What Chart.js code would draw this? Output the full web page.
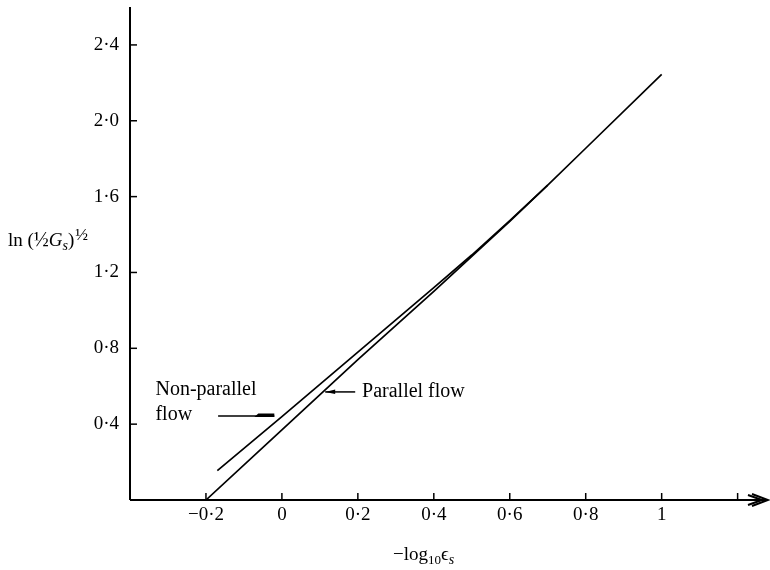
<!DOCTYPE html>
<html>
<head>
<meta charset="utf-8">
<script src="https://cdn.jsdelivr.net/npm/chart.js@4.4.0/dist/chart.umd.min.js"></script>
<style>
  body { margin: 0; background: #fff; }
  canvas { display: block; }
</style>
</head>
<body>
<canvas id="flow" width="770" height="570"></canvas>
<script>
// values
const parallelX = [-0.2, 0, 0.2, 0.4, 0.5, 0.6, 0.7, 0.8, 1.0];
const parallelY = [0, 0.37, 0.74, 1.1, 1.285, 1.47, 1.66, 1.855, 2.245];
const nonParallelX = [-0.17, 0, 0.2, 0.4, 0.5, 0.6, 0.7];
const nonParallelY = [0.155, 0.44, 0.78, 1.12, 1.292, 1.474, 1.66];

const xTicks = [-0.2, 0, 0.2, 0.4, 0.6, 0.8, 1, 1.2];
const xTickLabels = ['\u22120\u00b72', '0', '0\u00b72', '0\u00b74', '0\u00b76', '0\u00b78', '1', ''];
const yTicks = [0.4, 0.8, 1.2, 1.6, 2.0, 2.4];
const yTickLabels = ['0\u00b74', '0\u00b78', '1\u00b72', '1\u00b76', '2\u00b70', '2\u00b74'];

const serif = "'Liberation Serif', 'DejaVu Serif', serif";

function toPoints(xs, ys) {
  return xs.map((x, i) => ({ x: x, y: ys[i] }));
}

// axes, ticks, titles and the two labels are drawn here from the chart scales
const axesPlugin = {
  id: 'axesPlugin',
  afterDraw(chart) {
    const c = chart.ctx;
    const xs = chart.scales.x;
    const ys = chart.scales.y;
    const area = chart.chartArea;
    const x0 = xs.getPixelForValue(xs.min);
    const y0 = ys.getPixelForValue(0);

    c.save();
    c.strokeStyle = '#000';
    c.fillStyle = '#000';
    c.lineWidth = 2;

    // y axis
    c.beginPath();
    c.moveTo(x0, y0);
    c.lineTo(x0, area.top);
    c.stroke();

    // x axis with arrow
    c.beginPath();
    c.moveTo(x0, y0);
    c.lineTo(area.right, y0);
    c.stroke();
    c.beginPath();
    c.moveTo(area.right - 16, y0 - 6);
    c.lineTo(area.right, y0);
    c.lineTo(area.right - 16, y0 + 6);
    c.stroke();
    c.beginPath();
    c.moveTo(area.right - 20, y0 - 5);
    c.lineTo(area.right - 6, y0);
    c.lineTo(area.right - 20, y0 + 5);
    c.stroke();

    // ticks
    c.lineWidth = 1.5;
    c.font = '19px ' + serif;
    c.textAlign = 'center';
    c.textBaseline = 'top';
    xTicks.forEach((v, i) => {
      const px = xs.getPixelForValue(v);
      c.beginPath();
      c.moveTo(px, y0);
      c.lineTo(px, y0 - 7);
      c.stroke();
      c.fillText(xTickLabels[i], px, y0 + 6);
    });
    c.textAlign = 'right';
    c.textBaseline = 'middle';
    yTicks.forEach((v, i) => {
      const py = ys.getPixelForValue(v);
      c.beginPath();
      c.moveTo(x0, py);
      c.lineTo(x0 + 7, py);
      c.stroke();
      c.fillText(yTickLabels[i], x0 - 11, py);
    });

    // y title: ln (1/2 Gs)^1/2
    c.textAlign = 'left';
    c.textBaseline = 'alphabetic';
    let tx = 8, ty = 246;
    const piece = (txt, font, dy) => {
      c.font = font;
      c.fillText(txt, tx, ty + dy);
      tx += c.measureText(txt).width;
    };
    piece('ln (', '19px ' + serif, 0);
    piece('\u00bd', '20px ' + serif, 0);
    piece('G', 'italic 19px ' + serif, 0);
    piece('s', 'italic 14px ' + serif, 4);
    piece(')', '19px ' + serif, 0);
    tx += 1;
    piece('\u00bd', '17px ' + serif, -6);

    // x title: -log10 eps_s
    tx = 393; ty = 560;
    piece('\u2212log', '19px ' + serif, 0);
    piece('10', '13px ' + serif, 4);
    piece('\u03f5', '19px ' + serif, 0);
    piece('s', 'italic 14px ' + serif, 4);

    // annotations
    c.font = '20px ' + serif;
    c.fillText('Non-parallel', xs.getPixelForValue(-0.333), ys.getPixelForValue(0.554));
    c.fillText('flow', xs.getPixelForValue(-0.333), ys.getPixelForValue(0.42));
    c.fillText('Parallel flow', xs.getPixelForValue(0.211), ys.getPixelForValue(0.543));

    // arrow to non-parallel line
    let ay = ys.getPixelForValue(0.443);
    let ax1 = xs.getPixelForValue(-0.168), ax2 = xs.getPixelForValue(-0.02);
    c.lineWidth = 1.5;
    c.beginPath();
    c.moveTo(ax1, ay);
    c.lineTo(ax2, ay);
    c.stroke();
    c.beginPath();
    c.moveTo(ax2, ay - 2.5);
    c.lineTo(ax2 - 16, ay - 2.5);
    c.lineTo(ax2 - 20, ay + 1);
    c.lineTo(ax2, ay + 1);
    c.closePath();
    c.fill();

    // arrow to parallel line
    ay = ys.getPixelForValue(0.57);
    ax1 = xs.getPixelForValue(0.193);
    ax2 = xs.getPixelForValue(0.114);
    c.beginPath();
    c.moveTo(ax1, ay);
    c.lineTo(ax2, ay);
    c.stroke();
    c.beginPath();
    c.moveTo(ax2, ay);
    c.lineTo(ax2 + 10, ay - 2.5);
    c.lineTo(ax2 + 10, ay + 2);
    c.closePath();
    c.fill();

    c.restore();
  }
};

new Chart(document.getElementById('flow'), {
  type: 'scatter',
  data: {
    datasets: [
      {
        label: 'Parallel flow',
        data: toPoints(parallelX, parallelY),
        showLine: true,
        borderColor: '#000',
        borderWidth: 1.7,
        pointRadius: 0,
        tension: 0
      },
      {
        label: 'Non-parallel flow',
        data: toPoints(nonParallelX, nonParallelY),
        showLine: true,
        borderColor: '#000',
        borderWidth: 1.7,
        pointRadius: 0,
        tension: 0
      }
    ]
  },
  options: {
    responsive: false,
    animation: false,
    layout: { padding: { left: 130, right: 2, top: 7, bottom: 70 } },
    plugins: {
      legend: { display: false },
      tooltip: { enabled: false }
    },
    scales: {
      x: { type: 'linear', min: -0.4, max: 1.28, display: false },
      y: { type: 'linear', min: 0, max: 2.6, display: false }
    }
  },
  plugins: [axesPlugin]
});
</script>
</body>
</html>
